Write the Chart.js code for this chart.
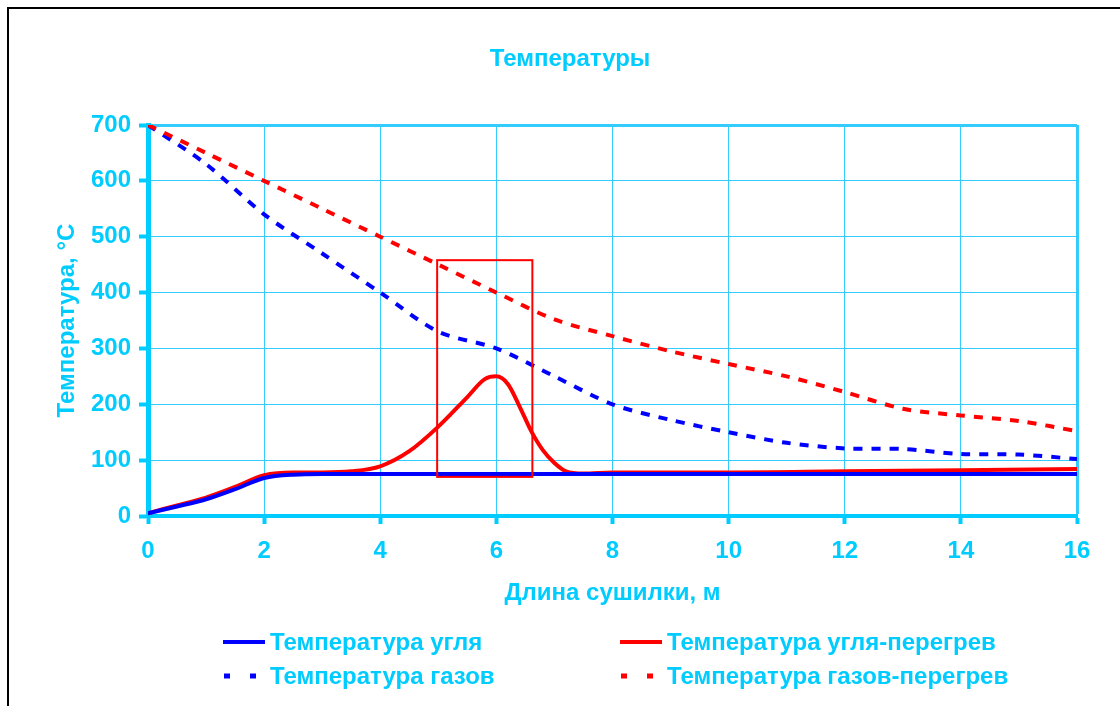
<!DOCTYPE html>
<html lang="ru">
<head>
    <meta charset="UTF-8">
    <title>Температуры</title>
    <style>
        body {
            margin: 0;
            background: #fff;
            width: 1120px;
            height: 706px;
            overflow: hidden;
            position: relative;
            font-family: 'Liberation Sans', Arial, sans-serif;
        }

        .frame {
            position: absolute;
            left: 7px;
            top: 7px;
            width: 1300px;
            height: 900px;
            border: 2px solid #000;
        }

        #chart-wrap {
            position: absolute;
            left: 0;
            top: 0;
            width: 1120px;
            height: 706px;
        }

        .chart-title {
            position: absolute;
            left: 470px;
            width: 200px;
            top: 44px;
            line-height: 28px;
            text-align: center;
            color: #00CCFF;
            font-weight: bold;
            font-size: 24px;
        }

        .legend-item {
            position: absolute;
            height: 30px;
            display: flex;
            align-items: center;
            color: #00CCFF;
            font-weight: bold;
            font-size: 24px;
            white-space: nowrap;
        }

        .legend-item svg {
            margin-right: 5px;
        }
    </style>
    <script src="https://cdn.jsdelivr.net/npm/chart.js"></script>
</head>
<body>
    <div class="frame"></div>
    <div id="chart-wrap"><canvas id="chart" width="1120" height="706"></canvas></div>
    <div class="chart-title">Температуры</div>
    <div id="legend"></div>

    <script>
        // Длина сушилки (м) и температуры (°C)
        const xTicks = [0, 2, 4, 6, 8, 10, 12, 14, 16];
        const yTicks = [0, 100, 200, 300, 400, 500, 600, 700];

        const lengthCoal = [0, 0.5, 1, 1.5, 2, 2.5, 3, 4, 5, 6, 7, 8, 9, 10, 11, 12, 13, 14, 15, 16];
        const tempCoal = [5, 17, 30, 48, 68, 74, 75, 75, 75, 75, 75, 75, 75, 75, 75, 75, 75, 75, 75, 75];

        const lengthCoalHot = [0, 0.5, 1, 1.5, 2, 2.5, 3, 3.5, 4, 4.5, 5, 5.5, 5.8, 6, 6.2, 6.4, 6.6, 6.8, 7, 7.2, 7.5, 8, 10, 12, 14, 16];
        const tempCoalHot = [5, 19, 33, 52, 73, 78, 78, 80, 89, 116, 160, 213, 245, 250, 236, 196, 152, 118, 95, 80, 76, 78, 78, 80, 82, 84];

        const lengthGas = [0, 1, 2, 3, 4, 5, 6, 7, 8, 9, 10, 11, 12, 13, 14, 15, 16];
        const tempGas = [700, 630, 540, 470, 400, 330, 300, 250, 200, 172, 150, 131, 121, 120, 111, 110, 102];
        const tempGasHot = [700, 650, 600, 550, 500, 450, 400, 352, 322, 295, 272, 250, 222, 192, 180, 170, 152];

        // выделенная зона перегрева (в единицах осей)
        const boxX = [4.98, 6.62];
        const boxY = [70, 458];

        const CYAN = '#00CCFF';
        const GRID = '#33CCFF';
        const FONT = "'Liberation Sans', Arial, sans-serif";

        function pts(xs, ys) {
            return xs.map((x, i) => ({ x: x, y: ys[i] }));
        }

        const legendItems = [
            { label: 'Температура угля', color: '#0000FF', dash: false, left: 223, top: 627 },
            { label: 'Температура угля-перегрев', color: '#FF0000', dash: false, left: 620, top: 627 },
            { label: 'Температура газов', color: '#0000FF', dash: true, left: 223, top: 661 },
            { label: 'Температура газов-перегрев', color: '#FF0000', dash: true, left: 620, top: 661 }
        ];

        // рамка зоны перегрева
        const boxPlugin = {
            id: 'boxPlugin',
            afterDatasetsDraw(chart) {
                const { ctx, scales } = chart;
                const x1 = scales.x.getPixelForValue(boxX[0]);
                const x2 = scales.x.getPixelForValue(boxX[1]);
                const y1 = scales.y.getPixelForValue(boxY[1]);
                const y2 = scales.y.getPixelForValue(boxY[0]);
                ctx.save();
                ctx.strokeStyle = '#FF0000';
                ctx.lineWidth = 2;
                ctx.strokeRect(x1, y1, x2 - x1, y2 - y1);
                ctx.restore();
            }
        };

        // толще линия сетки на краях области построения
        const edgeWidth = (max) => (c) => (c.tick && c.tick.value === max ? 3 : 1);

        new Chart(document.getElementById('chart'), {
            type: 'line',
            data: {
                datasets: [
                    {
                        label: 'Температура газов-перегрев',
                        data: pts(lengthGas, tempGasHot),
                        borderColor: '#FF0000',
                        borderWidth: 4,
                        borderDash: [9, 9],
                        tension: 0.3
                    },
                    {
                        label: 'Температура газов',
                        data: pts(lengthGas, tempGas),
                        borderColor: '#0000FF',
                        borderWidth: 4,
                        borderDash: [9, 9],
                        tension: 0.3
                    },
                    {
                        label: 'Температура угля',
                        data: pts(lengthCoal, tempCoal),
                        borderColor: '#0000FF',
                        borderWidth: 4,
                        cubicInterpolationMode: 'monotone'
                    },
                    {
                        label: 'Температура угля-перегрев',
                        data: pts(lengthCoalHot, tempCoalHot),
                        borderColor: '#FF0000',
                        borderWidth: 4,
                        cubicInterpolationMode: 'monotone'
                    }
                ]
            },
            options: {
                responsive: false,
                animation: false,
                events: [],
                elements: { point: { radius: 0 } },
                layout: { padding: { left: 0, right: 43, top: 125, bottom: 90 } },
                plugins: {
                    legend: { display: false },
                    tooltip: { enabled: false }
                },
                scales: {
                    x: {
                        type: 'linear',
                        min: 0,
                        max: 16,
                        afterBuildTicks: s => { s.ticks = xTicks.map(v => ({ value: v })); },
                        afterFit: s => { s.height = 100; },
                        grid: { color: GRID, lineWidth: edgeWidth(16), tickColor: CYAN, tickWidth: 4, tickLength: 8 },
                        border: { color: CYAN, width: 4 },
                        ticks: { color: CYAN, padding: 13, font: { family: FONT, size: 24, weight: 'bold' } },
                        title: {
                            display: true,
                            text: 'Длина сушилки, м',
                            color: CYAN,
                            font: { family: FONT, size: 24, weight: 'bold' },
                            padding: { top: 0, bottom: 8 }
                        }
                    },
                    y: {
                        min: 0,
                        max: 700,
                        afterBuildTicks: s => { s.ticks = yTicks.map(v => ({ value: v })); },
                        afterFit: s => { s.width = 148; },
                        grid: { color: GRID, lineWidth: edgeWidth(700), tickColor: CYAN, tickWidth: 4, tickLength: 9 },
                        border: { color: CYAN, width: 5 },
                        ticks: { color: CYAN, padding: 8, font: { family: FONT, size: 24, weight: 'bold' } },
                        title: {
                            display: true,
                            text: 'Температура, °C',
                            color: CYAN,
                            font: { family: FONT, size: 24, weight: 'bold' },
                            padding: { top: 53, bottom: 0 }
                        }
                    }
                }
            },
            plugins: [boxPlugin]
        });

        // легенда в две колонки
        const legend = document.getElementById('legend');
        legendItems.forEach(item => {
            const div = document.createElement('div');
            div.className = 'legend-item';
            div.style.left = item.left + 'px';
            div.style.top = item.top + 'px';
            const line = item.dash
                ? `<line x1="1" y1="15" x2="39" y2="15" stroke="${item.color}" stroke-width="5" stroke-dasharray="6 20"/>`
                : `<line x1="0" y1="15" x2="42" y2="15" stroke="${item.color}" stroke-width="4" stroke-linecap="round"/>`;
            div.innerHTML = `<svg width="42" height="30">${line}</svg><span>${item.label}</span>`;
            legend.appendChild(div);
        });
    </script>
</body>
</html>
